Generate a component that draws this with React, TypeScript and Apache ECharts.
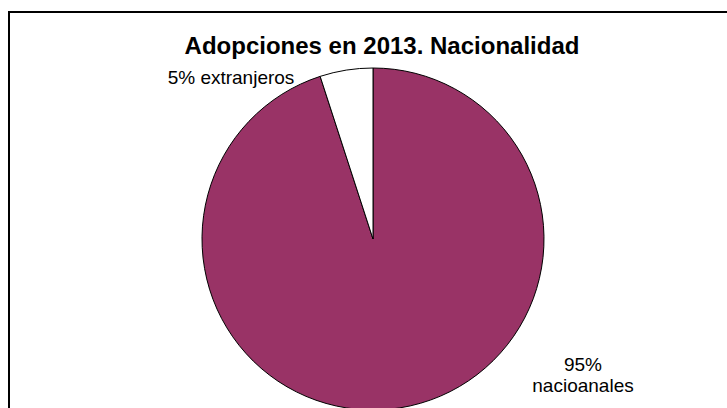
import React, { useEffect, useRef } from "react";
import * as echarts from "echarts";

const titleText = "Adopciones en 2013. Nacionalidad";
const categories = ["nacioanales", "extranjeros"];
const values = [95, 5];
const labelTexts = ["95%\nnacioanales", "5% extranjeros"];
const colors = ["#993366", "#FFFFFF"];

export default function App() {
  const ref = useRef<HTMLDivElement>(null);
  useEffect(() => {
    if (!ref.current) return;
    const chart = echarts.init(ref.current, null, { renderer: "svg" });
    chart.setOption({
      animation: false,
      backgroundColor: "#ffffff",
      title: {
        text: titleText,
        left: 377,
        top: 28,
        textAlign: "center",
        textStyle: {
          fontFamily: "Liberation Sans, Arial, sans-serif",
          fontWeight: "bold",
          fontSize: 24,
          color: "#000",
        },
      },
      graphic: [
        {
          type: "rect",
          shape: { x: 9, y: 12, width: 800, height: 500 },
          style: { fill: "none", stroke: "#000", lineWidth: 2 },
          z: 10,
        },
      ],
      series: [
        {
          type: "pie",
          center: [373, 239],
          radius: 171,
          startAngle: 90,
          clockwise: true,
          data: categories.map((c, i) => ({
            name: c,
            value: values[i],
            itemStyle: { color: colors[i] },
            label: { formatter: labelTexts[i] },
          })),
          itemStyle: { borderColor: "#000", borderWidth: 1 },
          label: {
            show: true,
            position: "outside",
            fontFamily: "Liberation Sans, Arial, sans-serif",
            fontSize: 19,
            lineHeight: 21,
            color: "#000",
            align: "center",
          },
          labelLine: { show: false },
          labelLayout: (params: any) => {
            if (params.dataIndex === 0) {
              return { x: 583, y: 375, align: "center", verticalAlign: "middle" };
            }
            return { x: 231, y: 77, align: "center", verticalAlign: "middle" };
          },
          emphasis: { disabled: true },
        },
      ],
    });
    return () => chart.dispose();
  }, []);
  return <div ref={ref} style={{ width: 727, height: 408, position: "absolute", left: 0, top: 0 }} />;
}
